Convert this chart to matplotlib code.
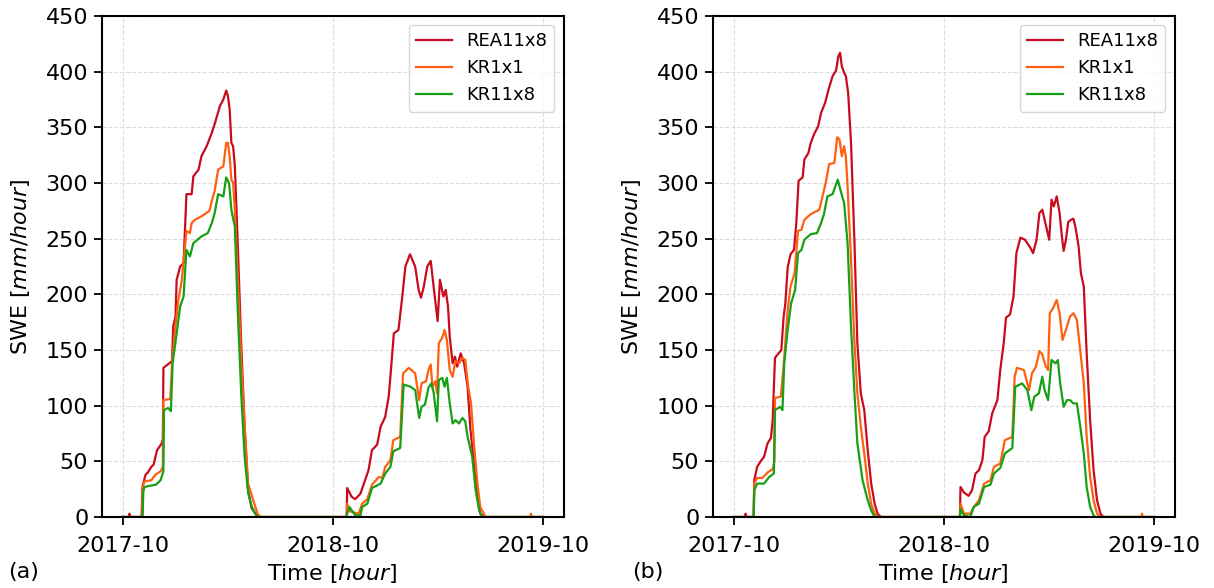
import numpy as np
import pandas as pd
import matplotlib
matplotlib.use('Agg')
import matplotlib.pyplot as plt
import matplotlib.dates as mdates

# ---- panel (a) ----
a_rea_t = ['2017-10-01', '2017-10-12', '2017-10-13', '2017-10-15', '2017-11-03', '2017-11-05', '2017-11-10',
           '2017-11-14', '2017-11-20', '2017-11-24', '2017-11-30', '2017-12-08', '2017-12-10', '2017-12-11',
           '2017-12-26', '2017-12-28', '2018-01-01', '2018-01-03', '2018-01-09', '2018-01-15', '2018-01-20',
           '2018-01-29', '2018-02-01', '2018-02-10', '2018-02-15', '2018-02-24', '2018-03-05', '2018-03-10',
           '2018-03-19', '2018-03-25', '2018-03-30', '2018-04-02', '2018-04-05', '2018-04-08', '2018-04-11',
           '2018-04-14', '2018-04-19', '2018-04-25', '2018-05-01', '2018-05-07', '2018-05-13', '2018-05-24',
           '2018-10-25', '2018-10-26', '2018-11-03', '2018-11-09', '2018-11-18', '2018-11-24', '2018-12-02',
           '2018-12-08', '2018-12-17', '2018-12-23', '2018-12-31', '2019-01-06', '2019-01-09', '2019-01-15',
           '2019-01-23', '2019-01-29', '2019-02-04', '2019-02-12', '2019-02-21', '2019-02-27', '2019-03-03',
           '2019-03-08', '2019-03-14', '2019-03-20', '2019-03-25', '2019-04-01', '2019-04-05', '2019-04-11',
           '2019-04-15', '2019-04-19', '2019-04-22', '2019-04-27', '2019-05-01', '2019-05-05', '2019-05-11',
           '2019-05-17', '2019-05-23', '2019-05-28', '2019-06-03', '2019-06-09', '2019-06-14', '2019-06-20',
           '2019-09-30']
a_rea_v = [0, 0, 3, 0, 0, 28, 38, 40, 45, 47, 60, 66, 70, 134, 140, 171, 180, 213, 225, 228, 290, 290, 306, 312,
           324, 333, 345, 353, 369, 375, 383, 378, 366, 336, 333, 315, 246, 156, 81, 24, 8, 0,
           0, 26, 18, 16, 21, 30, 42, 60, 65, 81, 90, 108, 126, 165, 168, 195, 225, 236, 225, 204, 197, 207,
           225, 230, 207, 176, 213, 198, 204, 189, 162, 138, 144, 135, 147, 138, 117, 78, 48, 18, 3, 0, 0]

a_kr1_t = ['2017-10-01', '2017-11-04', '2017-11-05', '2017-11-08', '2017-11-20', '2017-11-27', '2017-12-06',
           '2017-12-10', '2017-12-11', '2017-12-23', '2017-12-26', '2017-12-31', '2018-01-06', '2018-01-12',
           '2018-01-18', '2018-01-20', '2018-01-26', '2018-01-29', '2018-02-04', '2018-02-15', '2018-03-01',
           '2018-03-05', '2018-03-10', '2018-03-16', '2018-03-25', '2018-03-30', '2018-04-02', '2018-04-05',
           '2018-04-08', '2018-04-11', '2018-04-14', '2018-04-19', '2018-04-25', '2018-05-01', '2018-05-07',
           '2018-05-16', '2018-05-24', '2018-05-30',
           '2018-10-25', '2018-10-26', '2018-10-31', '2018-11-15', '2018-11-21', '2018-11-30', '2018-12-08',
           '2018-12-20', '2018-12-26', '2018-12-31', '2019-01-09', '2019-01-14', '2019-01-26', '2019-01-31',
           '2019-02-10', '2019-02-21', '2019-02-28', '2019-03-04', '2019-03-12', '2019-03-16', '2019-03-20',
           '2019-03-23', '2019-03-28', '2019-03-31', '2019-04-03', '2019-04-09', '2019-04-13', '2019-04-17',
           '2019-04-22', '2019-04-27', '2019-05-02', '2019-05-08', '2019-05-14', '2019-05-19', '2019-05-24',
           '2019-05-29', '2019-06-03', '2019-06-09', '2019-06-14', '2019-06-23', '2019-09-09', '2019-09-10',
           '2019-09-11', '2019-09-30']
a_kr1_v = [0, 0, 27, 32, 33, 38, 41, 45, 105, 106, 138, 167, 195, 213, 246, 257, 255, 264, 267, 270, 275, 284,
           293, 312, 315, 336, 336, 324, 303, 300, 276, 216, 141, 81, 30, 15, 2, 0,
           0, 12, 5, 3, 12, 16, 29, 36, 35, 45, 51, 69, 72, 129, 134, 129, 105, 120, 122, 132, 137, 117, 122,
           111, 156, 161, 168, 159, 132, 126, 140, 138, 143, 141, 117, 102, 66, 30, 9, 0, 0, 3, 0, 0]

a_kr11_t = ['2017-10-01', '2017-11-05', '2017-11-06', '2017-11-08', '2017-11-17', '2017-11-28', '2017-12-06',
            '2017-12-11', '2017-12-12', '2017-12-19', '2017-12-24', '2017-12-27', '2018-01-03', '2018-01-09',
            '2018-01-15', '2018-01-20', '2018-01-26', '2018-02-01', '2018-02-15', '2018-02-26', '2018-03-05',
            '2018-03-10', '2018-03-16', '2018-03-25', '2018-03-30', '2018-04-04', '2018-04-08', '2018-04-11',
            '2018-04-14', '2018-04-19', '2018-04-25', '2018-05-01', '2018-05-07', '2018-05-13', '2018-05-19',
            '2018-05-24',
            '2018-10-25', '2018-10-26', '2018-10-30', '2018-11-09', '2018-11-18', '2018-11-21', '2018-11-30',
            '2018-12-08', '2018-12-23', '2018-12-31', '2019-01-09', '2019-01-14', '2019-01-26', '2019-02-01',
            '2019-02-13', '2019-02-21', '2019-02-28', '2019-03-04', '2019-03-10', '2019-03-16', '2019-03-21',
            '2019-03-25', '2019-03-31', '2019-04-03', '2019-04-09', '2019-04-13', '2019-04-17', '2019-04-22',
            '2019-04-27', '2019-05-02', '2019-05-08', '2019-05-14', '2019-05-19', '2019-05-23', '2019-05-31',
            '2019-06-06', '2019-06-12', '2019-06-17', '2019-09-30']
a_kr11_v = [0, 0, 22, 27, 28, 29, 33, 41, 96, 98, 95, 138, 165, 189, 198, 240, 234, 246, 252, 255, 264, 273,
            290, 288, 305, 300, 276, 268, 261, 186, 111, 54, 22, 10, 3, 0,
            0, 3, 9, 1.5, 1.5, 9, 12, 26, 30, 39, 45, 59, 62, 119, 117, 114, 89, 99, 101, 116, 120, 112, 86,
            123, 125, 117, 125, 102, 84, 87, 84, 89, 86, 72, 54, 24, 6, 0, 0]

# ---- panel (b) ----
b_rea_t = ['2017-10-01', '2017-10-20', '2017-10-22', '2017-10-24', '2017-11-05', '2017-11-06', '2017-11-11',
           '2017-11-17', '2017-11-23', '2017-11-29', '2017-12-05', '2017-12-08', '2017-12-12', '2017-12-23',
           '2017-12-27', '2017-12-30', '2018-01-03', '2018-01-08', '2018-01-14', '2018-01-18', '2018-01-22',
           '2018-01-29', '2018-02-01', '2018-02-08', '2018-02-12', '2018-02-18', '2018-02-25', '2018-03-02',
           '2018-03-09', '2018-03-15', '2018-03-22', '2018-03-28', '2018-04-01', '2018-04-04', '2018-04-07',
           '2018-04-11', '2018-04-14', '2018-04-18', '2018-04-23', '2018-04-29', '2018-05-04', '2018-05-10',
           '2018-05-16', '2018-05-22', '2018-05-28', '2018-06-03', '2018-06-08', '2018-06-14',
           '2018-10-29', '2018-10-30', '2018-11-05', '2018-11-13', '2018-11-19', '2018-11-25', '2018-12-01',
           '2018-12-07', '2018-12-11', '2018-12-18', '2018-12-24', '2019-01-02', '2019-01-07', '2019-01-13',
           '2019-01-17', '2019-01-24', '2019-01-30', '2019-02-04', '2019-02-11', '2019-02-19', '2019-02-28',
           '2019-03-05', '2019-03-11', '2019-03-16', '2019-03-21', '2019-03-25', '2019-03-29', '2019-04-02',
           '2019-04-06', '2019-04-10', '2019-04-15', '2019-04-20', '2019-04-24', '2019-04-27', '2019-05-01',
           '2019-05-05', '2019-05-10', '2019-05-14', '2019-05-18', '2019-05-23', '2019-05-27', '2019-06-01',
           '2019-06-06', '2019-06-12', '2019-06-18', '2019-06-24', '2019-06-30', '2019-07-05', '2019-09-30']
b_rea_v = [0, 0, 3, 0, 0, 33, 45, 50, 54, 66, 71, 87, 143, 150, 180, 192, 224, 236, 240, 264, 302, 305, 321,
           327, 336, 344, 351, 363, 372, 384, 396, 401, 414, 417, 405, 399, 396, 381, 336, 246, 156, 111, 96,
           60, 30, 12, 3, 0,
           0, 27, 22, 19, 24, 39, 42, 51, 72, 77, 93, 105, 132, 156, 179, 182, 198, 237, 251, 249, 242, 237,
           249, 273, 276, 267, 258, 249, 285, 279, 288, 273, 252, 239, 249, 265, 267, 268, 259, 243, 219, 207,
           147, 87, 42, 15, 3, 0, 0]

b_kr1_t = ['2017-10-01', '2017-11-05', '2017-11-06', '2017-11-11', '2017-11-20', '2017-11-29', '2017-12-08',
           '2017-12-11', '2017-12-12', '2017-12-22', '2017-12-27', '2018-01-03', '2018-01-08', '2018-01-15',
           '2018-01-21', '2018-01-27', '2018-02-01', '2018-02-12', '2018-02-27', '2018-03-04', '2018-03-10',
           '2018-03-16', '2018-03-25', '2018-03-30', '2018-04-03', '2018-04-07', '2018-04-11', '2018-04-14',
           '2018-04-17', '2018-04-23', '2018-04-29', '2018-05-04', '2018-05-10', '2018-05-16', '2018-05-22',
           '2018-05-28', '2018-06-03', '2018-06-08',
           '2018-10-29', '2018-10-30', '2018-11-05', '2018-11-16', '2018-11-22', '2018-12-01', '2018-12-10',
           '2018-12-21', '2018-12-27', '2019-01-07', '2019-01-15', '2019-01-28', '2019-02-01', '2019-02-05',
           '2019-02-17', '2019-02-26', '2019-03-03', '2019-03-10', '2019-03-16', '2019-03-21', '2019-03-27',
           '2019-03-31', '2019-04-03', '2019-04-09', '2019-04-15', '2019-04-20', '2019-04-25', '2019-05-01',
           '2019-05-08', '2019-05-14', '2019-05-20', '2019-05-27', '2019-06-01', '2019-06-06', '2019-06-12',
           '2019-06-18', '2019-06-24', '2019-06-30', '2019-09-09', '2019-09-10', '2019-09-11', '2019-09-30']
b_kr1_v = [0, 0, 30, 35, 35, 40, 43, 50, 107, 108, 135, 186, 207, 219, 257, 258, 267, 272, 276, 287, 300, 317,
           318, 341, 339, 324, 333, 324, 297, 231, 156, 111, 81, 57, 30, 12, 3, 0,
           0, 12, 3, 3, 9, 15, 30, 33, 45, 48, 69, 72, 126, 134, 132, 114, 129, 135, 149, 146, 135, 132, 183,
           188, 195, 183, 159, 168, 180, 183, 177, 144, 120, 72, 36, 15, 3, 0, 0, 3, 0, 0]

b_kr11_t = ['2017-10-01', '2017-11-05', '2017-11-06', '2017-11-11', '2017-11-23', '2017-12-02', '2017-12-10',
            '2017-12-12', '2017-12-21', '2017-12-25', '2017-12-28', '2018-01-03', '2018-01-09', '2018-01-16',
            '2018-01-21', '2018-01-27', '2018-02-01', '2018-02-12', '2018-02-23', '2018-03-02', '2018-03-07',
            '2018-03-13', '2018-03-22', '2018-03-31', '2018-04-05', '2018-04-11', '2018-04-17', '2018-04-23',
            '2018-04-29', '2018-05-04', '2018-05-13', '2018-05-22', '2018-05-28', '2018-06-03',
            '2018-10-29', '2018-10-30', '2018-11-05', '2018-11-16', '2018-11-22', '2018-12-01', '2018-12-10',
            '2018-12-21', '2018-12-27', '2019-01-07', '2019-01-15', '2019-01-28', '2019-02-02', '2019-02-14',
            '2019-02-23', '2019-03-02', '2019-03-07', '2019-03-15', '2019-03-21', '2019-03-25', '2019-03-31',
            '2019-04-06', '2019-04-13', '2019-04-17', '2019-04-21', '2019-04-27', '2019-05-03', '2019-05-08',
            '2019-05-14', '2019-05-20', '2019-05-26', '2019-06-01', '2019-06-06', '2019-06-12', '2019-06-18',
            '2019-06-21', '2019-09-30']
b_kr11_v = [0, 0, 24, 30, 30, 36, 39, 96, 99, 96, 138, 168, 192, 204, 237, 240, 249, 254, 255, 264, 272, 288,
            290, 303, 293, 282, 246, 171, 111, 66, 33, 15, 6, 0,
            0, 7, 1.5, 0, 9, 12, 27, 29, 39, 44, 57, 62, 117, 120, 114, 96, 108, 111, 126, 114, 105, 141, 138,
            141, 120, 99, 105, 105, 102, 102, 81, 57, 27, 9, 1.5, 0, 0]

labels = ['REA11x8', 'KR1x1', 'KR11x8']
colors = ['#c80c1e', '#ff6010', '#16a016']

panels = [
    ('(a)', [(a_rea_t, a_rea_v), (a_kr1_t, a_kr1_v), (a_kr11_t, a_kr11_v)]),
    ('(b)', [(b_rea_t, b_rea_v), (b_kr1_t, b_kr1_v), (b_kr11_t, b_kr11_v)]),
]

fig = plt.figure(figsize=(12.14, 5.88), dpi=100)
ax_left = [101.5 / 1214, 712.5 / 1214]
tag_x = [8 / 1214, 632 / 1214]

for k, (tag, series) in enumerate(panels):
    ax = fig.add_axes([ax_left[k], 71 / 588, 462 / 1214, 501 / 588])
    for (t, v), lab, c in zip(series, labels, colors):
        ax.plot(pd.to_datetime(t), v, color=c, lw=1.6, label=lab)
    ax.set_ylim(0, 450)
    ax.set_yticks(np.arange(0, 451, 50))
    ax.xaxis.set_major_locator(mdates.MonthLocator(bymonth=10))
    ax.xaxis.set_major_formatter(mdates.DateFormatter('%Y-%m'))
    ax.grid(True, ls='--', color='#dddddd', lw=0.8)
    ax.set_axisbelow(True)
    ax.tick_params(labelsize=16, length=6, width=1.3)
    ax.tick_params(axis='x', pad=8)
    for s in ax.spines.values():
        s.set_linewidth(1.5)
    ax.set_ylabel('SWE [$mm/hour$]', fontsize=16, labelpad=10)
    ax.set_xlabel('Time [$hour$]', fontsize=16, labelpad=4)
    ax.legend(loc='upper right', fontsize=13, edgecolor='#cccccc')
    fig.text(tag_x[k], 10 / 588, tag, fontsize=16)

fig.savefig('out.png', dpi=100)
